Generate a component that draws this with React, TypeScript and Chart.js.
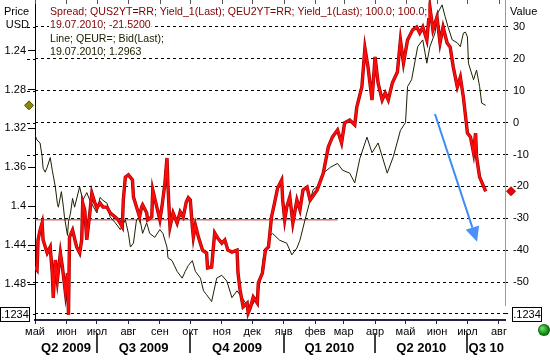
import { useEffect, useRef } from 'react';
import { Chart, registerables } from 'chart.js';

Chart.register(...registerables);
Chart.defaults.font.family = '"Liberation Sans", Arial, sans-serif';
Chart.defaults.font.size = 11;
Chart.defaults.color = '#000';

// x values are days since 01.05.2009
const START = Date.UTC(2009, 4, 1);
const DAY = 86400000;
const X_MAX = 463;

const monthLabels = ['май', 'июн', 'июл', 'авг', 'сен', 'окт', 'ноя', 'дек', 'янв', 'фев', 'мар', 'апр', 'май', 'июн', 'июл', 'авг'];
const quarterLabels = ['Q2 2009', 'Q3 2009', 'Q4 2009', 'Q1 2010', 'Q2 2010', 'Q3 10'];
const priceTicks = [1.24, 1.28, 1.32, 1.36, 1.4, 1.44, 1.48];
const valueTicks = [30, 20, 10, 0, -10, -20, -30, -40, -50, -60];

// Line; QEUR=; Bid(Last)  (left axis, inverted)
const priceDays = [0, 2, 5, 7, 8, 10, 12, 15, 17, 20, 22, 23, 26, 28, 29, 32, 33, 35, 37, 39, 44, 47, 51, 54, 61, 64, 67, 71, 74, 79, 84, 89, 92, 94, 97, 100, 103, 106, 110, 113, 118, 123, 126, 130, 131, 135, 140, 145, 148, 151, 155, 158, 163, 166, 169, 174, 179, 184, 189, 194, 199, 204, 209, 214, 219, 222, 225, 229, 232, 234, 241, 248, 253, 258, 261, 266, 271, 274, 278, 284, 291, 298, 303, 310, 315, 320, 327, 332, 338, 347, 353, 360, 365, 367, 371, 377, 382, 386, 389, 394, 397, 401, 404, 407, 411, 416, 419, 422, 424, 426, 427, 432, 435, 438, 440, 444];
const priceValues = [1.327, 1.332, 1.335, 1.349, 1.361, 1.365, 1.360, 1.350, 1.363, 1.380, 1.397, 1.401, 1.385, 1.401, 1.411, 1.430, 1.416, 1.407, 1.392, 1.401, 1.380, 1.394, 1.386, 1.394, 1.407, 1.391, 1.394, 1.397, 1.411, 1.417, 1.424, 1.414, 1.428, 1.442, 1.438, 1.414, 1.411, 1.428, 1.417, 1.428, 1.432, 1.424, 1.428, 1.442, 1.453, 1.456, 1.467, 1.474, 1.467, 1.461, 1.456, 1.467, 1.474, 1.487, 1.491, 1.498, 1.474, 1.471, 1.477, 1.494, 1.487, 1.494, 1.502, 1.502, 1.491, 1.477, 1.453, 1.443, 1.430, 1.428, 1.435, 1.438, 1.450, 1.443, 1.435, 1.414, 1.394, 1.383, 1.380, 1.366, 1.360, 1.356, 1.363, 1.366, 1.376, 1.351, 1.329, 1.345, 1.335, 1.366, 1.349, 1.322, 1.314, 1.277, 1.270, 1.236, 1.229, 1.253, 1.236, 1.222, 1.201, 1.193, 1.205, 1.216, 1.229, 1.232, 1.236, 1.222, 1.221, 1.226, 1.253, 1.270, 1.260, 1.277, 1.294, 1.2963];

// Spread; QUS2YT=RR - QEU2YT=RR (right axis)
const spreadDays = [0, 2, 3, 5, 7, 8, 12, 15, 17, 18, 20, 22, 25, 27, 30, 32, 33, 34, 37, 41, 44, 46, 47, 49, 51, 54, 56, 59, 61, 64, 67, 71, 74, 79, 82, 86, 87, 89, 92, 96, 97, 100, 103, 105, 106, 110, 111, 115, 116, 120, 123, 125, 128, 130, 131, 133, 136, 140, 143, 146, 149, 151, 153, 155, 156, 158, 161, 165, 169, 170, 174, 177, 180, 184, 187, 190, 194, 199, 200, 202, 205, 209, 210, 212, 215, 219, 220, 224, 227, 230, 233, 236, 239, 243, 244, 246, 248, 251, 254, 258, 261, 264, 268, 271, 278, 284, 289, 293, 298, 302, 305, 310, 315, 317, 322, 325, 328, 332, 335, 338, 342, 345, 348, 352, 357, 360, 363, 367, 372, 376, 379, 382, 386, 389, 392, 396, 399, 402, 406, 409, 412, 416, 419, 422, 426, 429, 432, 434, 435, 438, 440, 444];
const spreadValues = [-45.3, -46.2, -36.8, -33.7, -31.5, -36.8, -40.9, -39.0, -47.2, -55.0, -43.1, -49.4, -40.9, -45.3, -53.4, -47.2, -60.3, -35.9, -33.7, -39.0, -40.9, -36.8, -25.2, -27.4, -36.8, -28.3, -22.1, -25.2, -26.8, -25.2, -26.5, -26.5, -28.3, -29.6, -30.5, -32.7, -24.3, -17.1, -16.4, -18.0, -23.3, -26.5, -29.6, -26.5, -25.8, -28.3, -30.5, -29.6, -21.1, -26.5, -30.5, -26.5, -18.9, -11.1, -20.2, -32.7, -28.3, -31.5, -28.0, -29.6, -24.9, -23.6, -24.3, -32.7, -35.9, -32.1, -35.9, -40.0, -40.9, -45.6, -45.3, -34.6, -36.2, -37.8, -36.8, -40.0, -40.6, -40.0, -47.2, -52.5, -57.8, -56.6, -59.7, -58.2, -54.7, -56.6, -50.3, -47.2, -40.0, -39.0, -29.6, -25.2, -20.5, -18.0, -24.3, -30.5, -26.5, -23.3, -31.5, -24.3, -27.4, -21.1, -20.2, -24.3, -21.1, -15.8, -7.6, -4.5, -2.3, -6.4, -0.1, 0.8, -0.7, 4.9, 11.2, 23.4, 17.5, 7.1, 20.6, 12.4, 7.1, 9.3, 7.1, 12.4, 15.9, 25.9, 18.7, 25.9, 29.1, 30.0, 28.1, 30.0, 25.9, 36.3, 29.1, 33.1, 25.0, 30.0, 25.0, 23.7, 17.5, 11.2, 14.3, 8.0, -3.3, -4.5, -9.5, -3.3, -10.8, -17.1, -18.6, -21.52];

// horizontal reference line (right axis)
const refLineDays = [0, 298];
const refLineValues = [-30.5, -30.5];

// blue trend arrow (right axis)
const arrowDays = [394, 435.5];
const arrowValues = [2.7, -37.4];

const legendLines = [
  { text: 'Spread; QUS2YT=RR; Yield_1(Last); QEU2YT=RR; Yield_1(Last); 100.0; 100.0;', color: '#800000' },
  { text: '19.07.2010; -21.5200', color: '#800000' },
  { text: 'Line; QEUR=; Bid(Last);', color: '#202000' },
  { text: '19.07.2010; 1.2963', color: '#202000' },
];

const monthDays = monthLabels.map((_, i) => (Date.UTC(2009, 4 + i, 1) - START) / DAY);
const quarterBounds = quarterLabels
  .map((_, i) => Math.min(X_MAX, Math.max(0, (Date.UTC(2009, 3 + 3 * i, 1) - START) / DAY)))
  .concat([X_MAX]);
const quarterMids = quarterLabels.map((_, i) => (quarterBounds[i] + quarterBounds[i + 1]) / 2);
const quarterSeparators = quarterBounds.slice(1, quarterLabels.length);

const lastPrice = priceValues[priceValues.length - 1];
const lastSpread = spreadValues[spreadValues.length - 1];

const FONT = '"Liberation Sans", Arial, sans-serif';

const decorPlugin = {
  id: 'decor',
  afterDraw(chart: any) {
    const { ctx, chartArea: ca, scales } = chart;
    const x = scales.x;
    const y = scales.y;
    const y2 = scales.y2;
    const line = (x1: number, y1: number, x2: number, y2_: number) => {
      ctx.beginPath();
      ctx.moveTo(x1, y1);
      ctx.lineTo(x2, y2_);
      ctx.stroke();
    };
    ctx.save();

    // top month ticks
    ctx.strokeStyle = '#555';
    ctx.lineWidth = 1;
    monthDays.forEach((d) => {
      const px = Math.round(x.getPixelForValue(d)) + 0.5;
      line(px, ca.top, px, ca.top + 4);
    });

    // right value axis line (gray)
    ctx.strokeStyle = '#9a9a9a';
    line(ca.right + 0.5, ca.top, ca.right + 0.5, ca.bottom - 14);

    // grid extensions left of the price axis
    ctx.strokeStyle = '#000';
    ctx.setLineDash([3, 3]);
    valueTicks.forEach((v) => {
      const py = Math.round(y.getPixelForValue(v)) + 0.5;
      line(ca.left - 8, py, ca.left, py);
    });
    ctx.setLineDash([]);

    // arrow
    const ax1 = x.getPixelForValue(arrowDays[0]);
    const ay1 = y.getPixelForValue(arrowValues[0]);
    const ax2 = x.getPixelForValue(arrowDays[1]);
    const ay2 = y.getPixelForValue(arrowValues[1]);
    const len = Math.hypot(ax2 - ax1, ay2 - ay1);
    const ux = (ax2 - ax1) / len;
    const uy = (ay2 - ay1) / len;
    const head = 15;
    const bx = ax2 - ux * head;
    const by = ay2 - uy * head;
    ctx.strokeStyle = '#3c8cf8';
    ctx.fillStyle = '#4a90f8';
    ctx.lineWidth = 2;
    line(ax1, ay1, bx, by);
    ctx.beginPath();
    ctx.moveTo(ax2, ay2);
    ctx.lineTo(bx - uy * 7, by + ux * 7);
    ctx.lineTo(bx + uy * 7, by - ux * 7);
    ctx.closePath();
    ctx.fill();

    // diamonds marking last values
    const diamond = (cx: number, cy: number, r: number, fill: string, stroke: string) => {
      ctx.beginPath();
      ctx.moveTo(cx, cy - r);
      ctx.lineTo(cx + r, cy);
      ctx.lineTo(cx, cy + r);
      ctx.lineTo(cx - r, cy);
      ctx.closePath();
      ctx.fillStyle = fill;
      ctx.fill();
      ctx.strokeStyle = stroke;
      ctx.lineWidth = 1;
      ctx.stroke();
    };
    diamond(ca.left - 6, y2.getPixelForValue(lastPrice), 4.5, '#8a8a00', '#505000');
    diamond(ca.right + 6, y.getPixelForValue(lastSpread), 4.5, '#f00000', '#b00000');

    // .1234 boxes
    ctx.font = '11px ' + FONT;
    ctx.textBaseline = 'middle';
    const boxY = Math.round(y.getPixelForValue(valueTicks[valueTicks.length - 1]));
    const box = (bx0: number, w: number) => {
      ctx.fillStyle = '#fff';
      ctx.fillRect(bx0, boxY - 7, w, 14);
      ctx.strokeStyle = '#000';
      ctx.lineWidth = 1;
      ctx.strokeRect(bx0 + 0.5, boxY - 7 + 0.5, w, 14);
      ctx.fillStyle = '#000';
      ctx.textAlign = 'center';
      ctx.fillText('.1234', bx0 + w / 2 + 0.5, boxY + 1);
    };
    box(0, 29);
    box(ca.right + 7, 29);

    // green ball
    const gx = chart.width - 6;
    const gy = ca.bottom + 10;
    const grad = ctx.createRadialGradient(gx - 2, gy - 2, 1, gx, gy, 6);
    grad.addColorStop(0, '#60e060');
    grad.addColorStop(1, '#006000');
    ctx.fillStyle = grad;
    ctx.beginPath();
    ctx.arc(gx, gy, 6, 0, Math.PI * 2);
    ctx.fill();

    // axis titles
    ctx.fillStyle = '#000';
    ctx.textAlign = 'right';
    ctx.fillText('Price', ca.left - 6, 12);
    ctx.fillText('USD', ca.left - 6, 25);
    ctx.textAlign = 'left';
    ctx.fillText('Value', ca.right + 5, 12);

    // legend text
    ctx.font = '10.6px ' + FONT;
    const ly = [12, 25, 39, 52];
    legendLines.forEach((l, i) => {
      const w = ctx.measureText(l.text).width;
      ctx.fillStyle = '#fff';
      ctx.fillRect(49, ly[i] - 6, w + 2, 12);
      ctx.fillStyle = l.color;
      ctx.fillText(l.text, 50, ly[i]);
    });

    // quarter separators
    ctx.strokeStyle = '#000';
    ctx.lineWidth = 1.5;
    quarterSeparators.forEach((d) => {
      const px = Math.round(x.getPixelForValue(d));
      line(px, ca.bottom + 13, px, ca.bottom + 33);
    });

    ctx.restore();
  },
};

const noPadV = (w: number) => (s: any) => {
  s.width = w;
  s.paddingTop = 0;
  s.paddingBottom = 0;
};
const noPadH = (h: number) => (s: any) => {
  s.height = h;
  s.paddingLeft = 0;
  s.paddingRight = 0;
};

export default function App() {
  const ref = useRef<HTMLCanvasElement | null>(null);

  useEffect(() => {
    if (!ref.current) return;
    const chart = new Chart(ref.current, {
      type: 'line',
      data: {
        datasets: [
          {
            label: 'Spread',
            data: spreadDays.map((d, i) => ({ x: d, y: spreadValues[i] })),
            yAxisID: 'y',
            borderColor: '#ff0a0a',
            borderWidth: 2.2,
            pointRadius: 0,
            tension: 0,
            order: 0,
          },
          {
            label: 'Spread shade',
            data: spreadDays.map((d, i) => ({ x: d, y: spreadValues[i] })),
            yAxisID: 'y',
            borderColor: '#9a0000',
            borderWidth: 3.4,
            pointRadius: 0,
            tension: 0,
            order: 1,
          },
          {
            label: 'EUR',
            data: priceDays.map((d, i) => ({ x: d, y: priceValues[i] })),
            yAxisID: 'y2',
            borderColor: '#1e1e00',
            borderWidth: 1,
            pointRadius: 0,
            tension: 0,
            order: 2,
          },
          {
            label: 'ref',
            data: refLineDays.map((d, i) => ({ x: d, y: refLineValues[i] })),
            yAxisID: 'y',
            borderColor: '#b83030',
            borderWidth: 1,
            pointRadius: 0,
            order: 3,
          },
        ],
      },
      options: {
        responsive: false,
        animation: false,
        events: [],
        layout: { padding: 0 },
        plugins: { legend: { display: false }, tooltip: { enabled: false } },
        scales: {
          x: {
            type: 'linear',
            position: 'bottom',
            weight: 0,
            min: 0,
            max: X_MAX,
            afterBuildTicks: (s: any) => {
              s.ticks = monthDays.map((v) => ({ value: v }));
            },
            afterFit: noPadH(21),
            ticks: {
              autoSkip: false,
              maxRotation: 0,
              padding: 1,
              color: '#000',
              font: { size: 11 },
              callback: (_v: any, i: number) => monthLabels[i],
            },
            grid: { drawOnChartArea: false, tickLength: 4, tickColor: '#222244' },
            border: { color: '#222244', width: 2 },
          },
          x2: {
            type: 'linear',
            position: 'bottom',
            weight: 1,
            min: 0,
            max: X_MAX,
            afterBuildTicks: (s: any) => {
              s.ticks = quarterMids.map((v) => ({ value: v }));
            },
            afterFit: noPadH(23),
            ticks: {
              autoSkip: false,
              maxRotation: 0,
              padding: 0,
              color: '#000',
              font: { size: 13, weight: 'bold' },
              callback: (_v: any, i: number) => quarterLabels[i],
            },
            grid: { display: false, drawTicks: false },
            border: { display: false },
          },
          y: {
            type: 'linear',
            position: 'right',
            min: -61.92,
            max: 38.47,
            afterBuildTicks: (s: any) => {
              s.ticks = valueTicks.map((v) => ({ value: v }));
            },
            afterFit: noPadV(45),
            ticks: {
              padding: 2,
              color: '#000',
              font: { size: 11 },
              callback: (v: any) => (v === valueTicks[valueTicks.length - 1] ? '' : String(v)),
            },
            grid: {
              color: '#000',
              lineWidth: 1,
              tickLength: 6,
              tickColor: '#000',
              tickBorderDash: [3, 3],
            },
            border: { display: false, dash: [3, 3] },
          },
          y2: {
            type: 'linear',
            position: 'left',
            reverse: true,
            min: 1.188,
            max: 1.517,
            afterBuildTicks: (s: any) => {
              s.ticks = priceTicks.map((v) => ({ value: v }));
            },
            afterFit: noPadV(35),
            ticks: {
              padding: 2,
              color: '#000',
              font: { size: 11 },
              callback: (v: any) => String(Number(Number(v).toFixed(2))),
            },
            grid: { drawOnChartArea: false, tickLength: 7, tickColor: '#000' },
            border: { color: '#000', width: 1 },
          },
        },
      },
      plugins: [decorPlugin],
    } as any);
    return () => chart.destroy();
  }, []);

  return (
    <canvas
      ref={ref}
      width={550}
      height={364}
      style={{ position: 'absolute', left: 0, top: 0, width: 550, height: 364, background: '#fff' }}
    />
  );
}
